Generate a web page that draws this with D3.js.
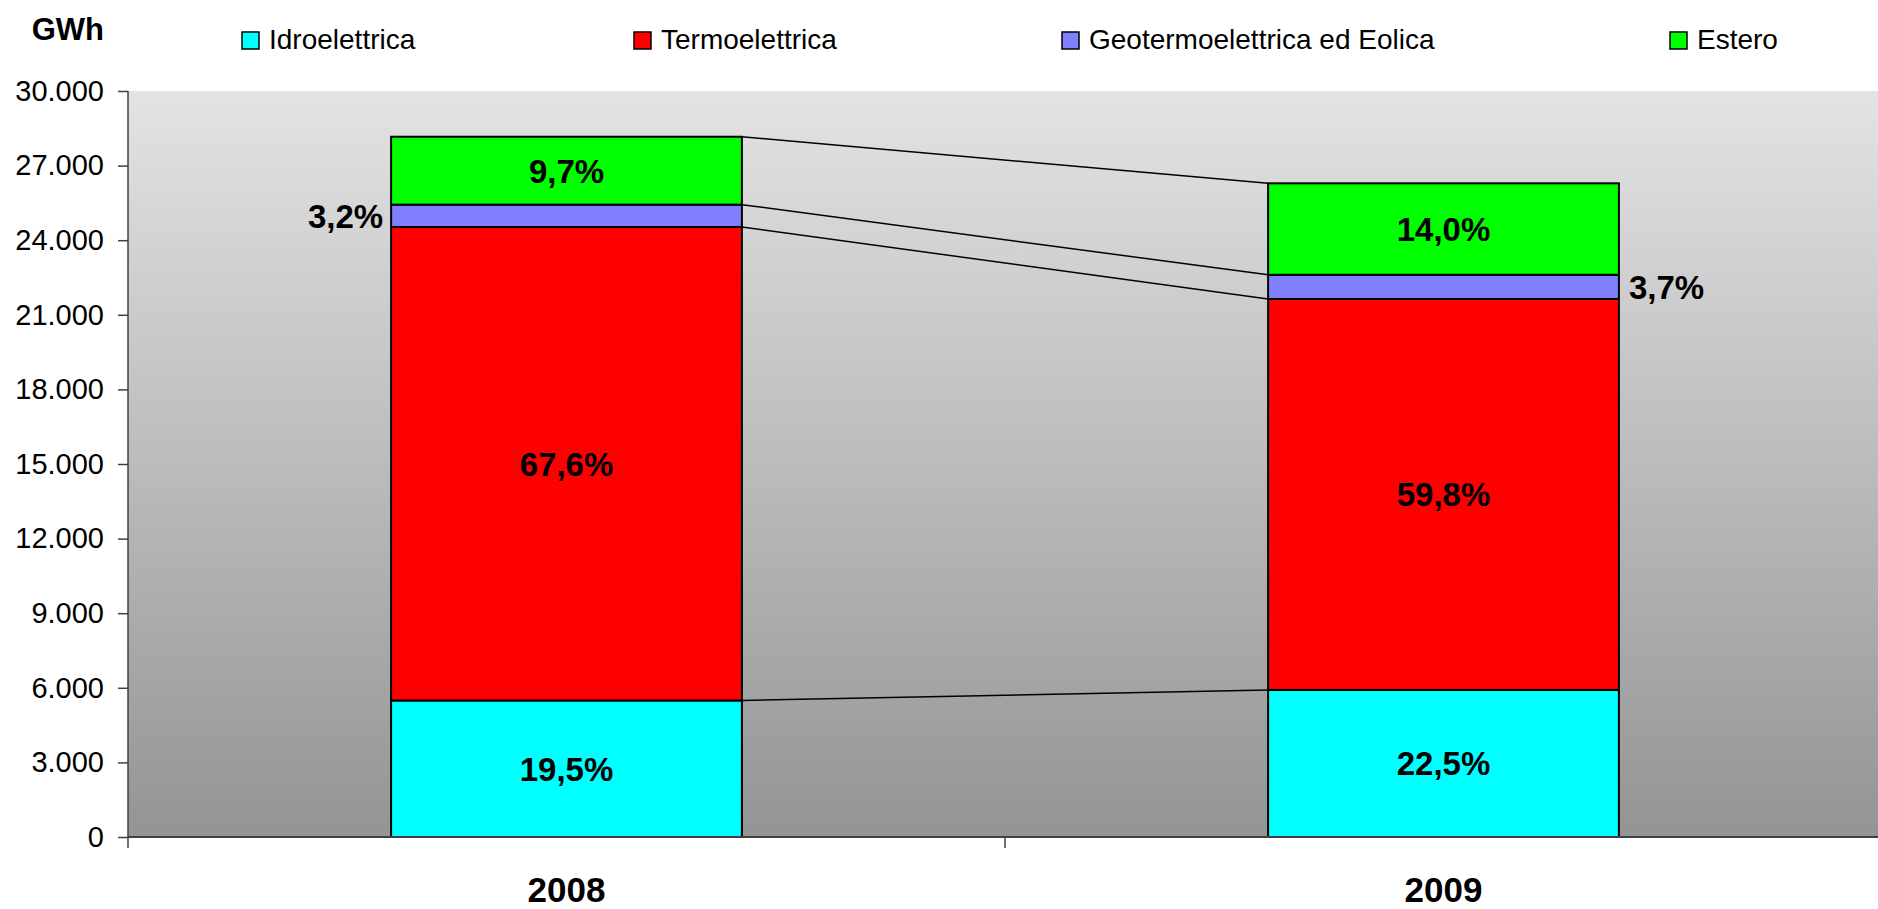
<!DOCTYPE html>
<html>
  <head>
    <meta charset="utf-8" />
    <title>GWh per fonte</title>
    <script src="https://d3js.org/d3.v7.min.js"></script>
    <style>
      body { margin: 0; background: #fff; }
      text { font-family: "Liberation Sans", Arial, sans-serif; }
    </style>
  </head>
  <body>
    <script>
      // data (GWh)
      const years = ["2008", "2009"];
      const series = ["Idroelettrica", "Termoelettrica", "Geotermoelettrica ed Eolica", "Estero"];
      const idro = [5490, 5915];
      const termo = [19040, 15720];
      const geo = [900, 973];
      const estero = [2730, 3680];
      const colors = ["#00FFFF", "#FF0000", "#8080FF", "#00FF00"];
      const yTicks = [0, 3000, 6000, 9000, 12000, 15000, 18000, 21000, 24000, 27000, 30000];

      const width = 1878, height = 909;
      const plot = { left: 128, right: 1882, top: 91, bottom: 837 };

      const svg = d3.select("body").append("svg")
        .attr("width", width)
        .attr("height", height);

      // background gradient of the plot area
      const grad = svg.append("defs").append("linearGradient")
        .attr("id", "bg").attr("x1", 0).attr("y1", 0).attr("x2", 0).attr("y2", 1);
      grad.append("stop").attr("offset", "0%").attr("stop-color", "#E3E3E3");
      grad.append("stop").attr("offset", "100%").attr("stop-color", "#949494");

      svg.append("rect")
        .attr("x", plot.left).attr("y", plot.top)
        .attr("width", width - plot.left).attr("height", plot.bottom - plot.top)
        .attr("fill", "url(#bg)");

      const x = d3.scaleBand().domain(years)
        .range([plot.left, plot.right])
        .paddingInner(0.6).paddingOuter(0.3);
      const y = d3.scaleLinear().domain([0, 30000]).range([plot.bottom, plot.top]);

      const rows = years.map((yr, i) => ({
        year: yr, Idroelettrica: idro[i], Termoelettrica: termo[i],
        "Geotermoelettrica ed Eolica": geo[i], Estero: estero[i]
      }));
      const stacked = d3.stack().keys(series)(rows);
      const totals = rows.map(r => d3.sum(series, k => r[k]));
      const fmtPct = v => d3.format(".1f")(v * 100).replace(".", ",") + "%";

      // connecting lines between the two bars
      const bounds = [0].concat(stacked.map(s => s[0][1]));
      const boundsB = [0].concat(stacked.map(s => s[1][1]));
      svg.append("g").selectAll("line")
        .data(d3.range(1, bounds.length))
        .join("line")
        .attr("x1", x("2008") + x.bandwidth())
        .attr("x2", x("2009"))
        .attr("y1", i => y(bounds[i]))
        .attr("y2", i => y(boundsB[i]))
        .attr("stroke", "#000")
        .attr("stroke-width", 1.5);

      // bars
      const layer = svg.append("g").selectAll("g")
        .data(stacked)
        .join("g")
        .attr("fill", (d, i) => colors[i]);

      layer.selectAll("rect")
        .data(d => d)
        .join("rect")
        .attr("x", d => x(d.data.year))
        .attr("y", d => y(d[1]))
        .attr("width", x.bandwidth())
        .attr("height", d => y(d[0]) - y(d[1]))
        .attr("stroke", "#000")
        .attr("stroke-width", 2);

      // percentage labels
      stacked.forEach((s, si) => {
        s.forEach((d, i) => {
          const pct = fmtPct((d[1] - d[0]) / totals[i]);
          let tx = x(d.data.year) + x.bandwidth() / 2, anchor = "middle";
          if (series[si] === "Geotermoelettrica ed Eolica") {
            // the thin slice gets its label outside the bar
            if (i === 0) { tx = x(d.data.year) - 8; anchor = "end"; }
            else { tx = x(d.data.year) + x.bandwidth() + 10; anchor = "start"; }
          }
          svg.append("text")
            .attr("x", tx)
            .attr("y", (y(d[0]) + y(d[1])) / 2)
            .attr("dy", "0.36em")
            .attr("text-anchor", anchor)
            .attr("font-size", 33)
            .attr("font-weight", "bold")
            .text(pct);
        });
      });

      // y axis
      const yAxis = svg.append("g")
        .attr("transform", `translate(${plot.left},0)`)
        .call(d3.axisLeft(y).tickValues(yTicks).tickSize(10).tickPadding(14)
          .tickFormat(d => d3.format(",")(d).replace(/,/g, ".")));
      yAxis.select(".domain").remove();
      yAxis.selectAll(".tick line").attr("stroke", "#404040").attr("stroke-width", 1.5);
      yAxis.selectAll(".tick text").attr("font-size", 29).attr("fill", "#000")
        .attr("font-family", "'Liberation Sans', Arial, sans-serif");
      svg.append("line")
        .attr("x1", plot.left).attr("x2", plot.left)
        .attr("y1", plot.top).attr("y2", plot.bottom + 11)
        .attr("stroke", "#404040").attr("stroke-width", 1.5);

      // x axis
      svg.append("line")
        .attr("x1", plot.left).attr("x2", width)
        .attr("y1", plot.bottom).attr("y2", plot.bottom)
        .attr("stroke", "#404040").attr("stroke-width", 2);
      svg.append("line")
        .attr("x1", (x("2008") + x("2009") + x.bandwidth()) / 2)
        .attr("x2", (x("2008") + x("2009") + x.bandwidth()) / 2)
        .attr("y1", plot.bottom).attr("y2", plot.bottom + 11)
        .attr("stroke", "#404040").attr("stroke-width", 1.5);

      svg.append("g").selectAll("text")
        .data(years)
        .join("text")
        .attr("x", d => x(d) + x.bandwidth() / 2)
        .attr("y", 902)
        .attr("text-anchor", "middle")
        .attr("font-size", 35)
        .attr("font-weight", "bold")
        .text(d => d);

      // unit label
      svg.append("text")
        .attr("x", 104).attr("y", 40)
        .attr("text-anchor", "end")
        .attr("font-size", 31)
        .attr("font-weight", "bold")
        .text("GWh");

      // legend
      const legendX = [242, 634, 1062, 1670];
      const legend = svg.append("g").selectAll("g")
        .data(series)
        .join("g")
        .attr("transform", (d, i) => `translate(${legendX[i]},32)`);
      legend.append("rect")
        .attr("width", 17).attr("height", 17)
        .attr("fill", (d, i) => colors[i])
        .attr("stroke", "#000").attr("stroke-width", 1.5);
      legend.append("text")
        .attr("x", 27).attr("y", 17)
        .attr("font-size", 28)
        .text(d => d);
    </script>
  </body>
</html>
